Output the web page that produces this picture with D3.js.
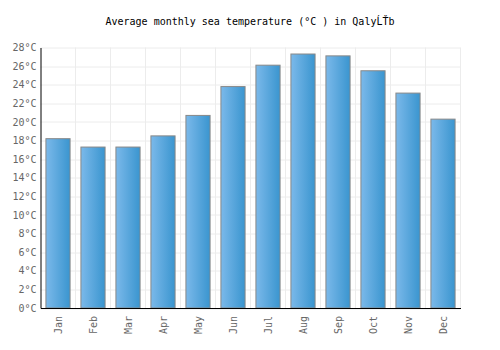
<!DOCTYPE html>
<html>
<head>
<meta charset="utf-8">
<script src="https://d3js.org/d3.v7.min.js"></script>
<style>
  body { margin: 0; background: #fff; }
  text { font-family: "DejaVu Sans Mono", monospace; }
</style>
</head>
<body>
<div id="chart"></div>
<script>
// chart data
var months = ["Jan", "Feb", "Mar", "Apr", "May", "Jun", "Jul", "Aug", "Sep", "Oct", "Nov", "Dec"];
var temps = [18.2, 17.3, 17.3, 18.5, 20.7, 23.8, 26.1, 27.3, 27.1, 25.5, 23.1, 20.3];
var yTicks = [0, 2, 4, 6, 8, 10, 12, 14, 16, 18, 20, 22, 24, 26, 28];
var title = "Average monthly sea temperature (°C ) in QalyĹŤb";

// dimensions
var margin = {top: 47.5, right: 39.5, bottom: 42, left: 40.5},
    width = 500 - margin.left - margin.right,
    height = 350 - margin.top - margin.bottom;

var svg = d3.select("#chart").append("svg")
    .attr("width", 500)
    .attr("height", 350);

// gradient for the bars
var grad = svg.append("defs").append("linearGradient")
    .attr("id", "barGrad")
    .attr("x1", "0%").attr("x2", "100%")
    .attr("y1", "0%").attr("y2", "0%");
grad.append("stop").attr("offset", "0%").attr("stop-color", "#7bb9ea");
grad.append("stop").attr("offset", "100%").attr("stop-color", "#3a95cf");

// title
svg.append("text")
    .attr("x", 250)
    .attr("y", 25)
    .attr("text-anchor", "middle")
    .style("font-size", "10px")
    .style("fill", "#000")
    .text(title);

var g = svg.append("g")
    .attr("transform", "translate(" + margin.left + "," + margin.top + ")");

// scales
var x = d3.scaleBand()
    .domain(months)
    .range([0, width])
    .paddingInner(0.31)
    .paddingOuter(0.155);
var xGrid = d3.scaleBand().domain(months).range([0, width]);
var y = d3.scaleLinear()
    .domain([0, 28])
    .range([height, 0]);

// grid lines
g.selectAll(".hgrid")
    .data(yTicks)
  .enter().append("line")
    .attr("x1", 0).attr("x2", width)
    .attr("y1", function(d) { return Math.round(y(d)) + 0.5; })
    .attr("y2", function(d) { return Math.round(y(d)) + 0.5; })
    .attr("stroke", "#ececec");

g.selectAll(".vgrid")
    .data(months)
  .enter().append("line")
    .attr("x1", function(d) { return xGrid(d) + xGrid.bandwidth(); })
    .attr("x2", function(d) { return xGrid(d) + xGrid.bandwidth(); })
    .attr("y1", 0).attr("y2", height)
    .attr("stroke", "#ececec");

// bars
g.selectAll(".bar")
    .data(temps)
  .enter().append("rect")
    .attr("class", "bar")
    .attr("x", function(d, i) { return x(months[i]); })
    .attr("width", x.bandwidth())
    .attr("y", function(d) { return y(d); })
    .attr("height", function(d) { return height - y(d); })
    .attr("fill", "url(#barGrad)")
    .attr("stroke", "#888")
    .attr("stroke-width", 1);

// y axis
var yAxis = g.append("g")
    .call(d3.axisLeft(y).tickValues(yTicks).tickSize(0).tickPadding(4)
        .tickFormat(function(d) { return d + "°C"; }));
yAxis.select(".domain").attr("stroke", "#000");
yAxis.selectAll("text")
    .style("font-size", "10px")
    .style("font-family", "DejaVu Sans Mono, monospace")
    .attr("fill", "#666");

// x axis
var xAxis = g.append("g")
    .attr("transform", "translate(0," + height + ")")
    .call(d3.axisBottom(x).tickSize(0).tickPadding(0));
xAxis.select(".domain").attr("stroke", "#000");
xAxis.selectAll("text")
    .style("font-size", "10px")
    .style("font-family", "DejaVu Sans Mono, monospace")
    .attr("fill", "#666")
    .attr("text-anchor", "end")
    .attr("dy", "0.35em")
    .attr("transform", "translate(0,8) rotate(-90)");
</script>
</body>
</html>
